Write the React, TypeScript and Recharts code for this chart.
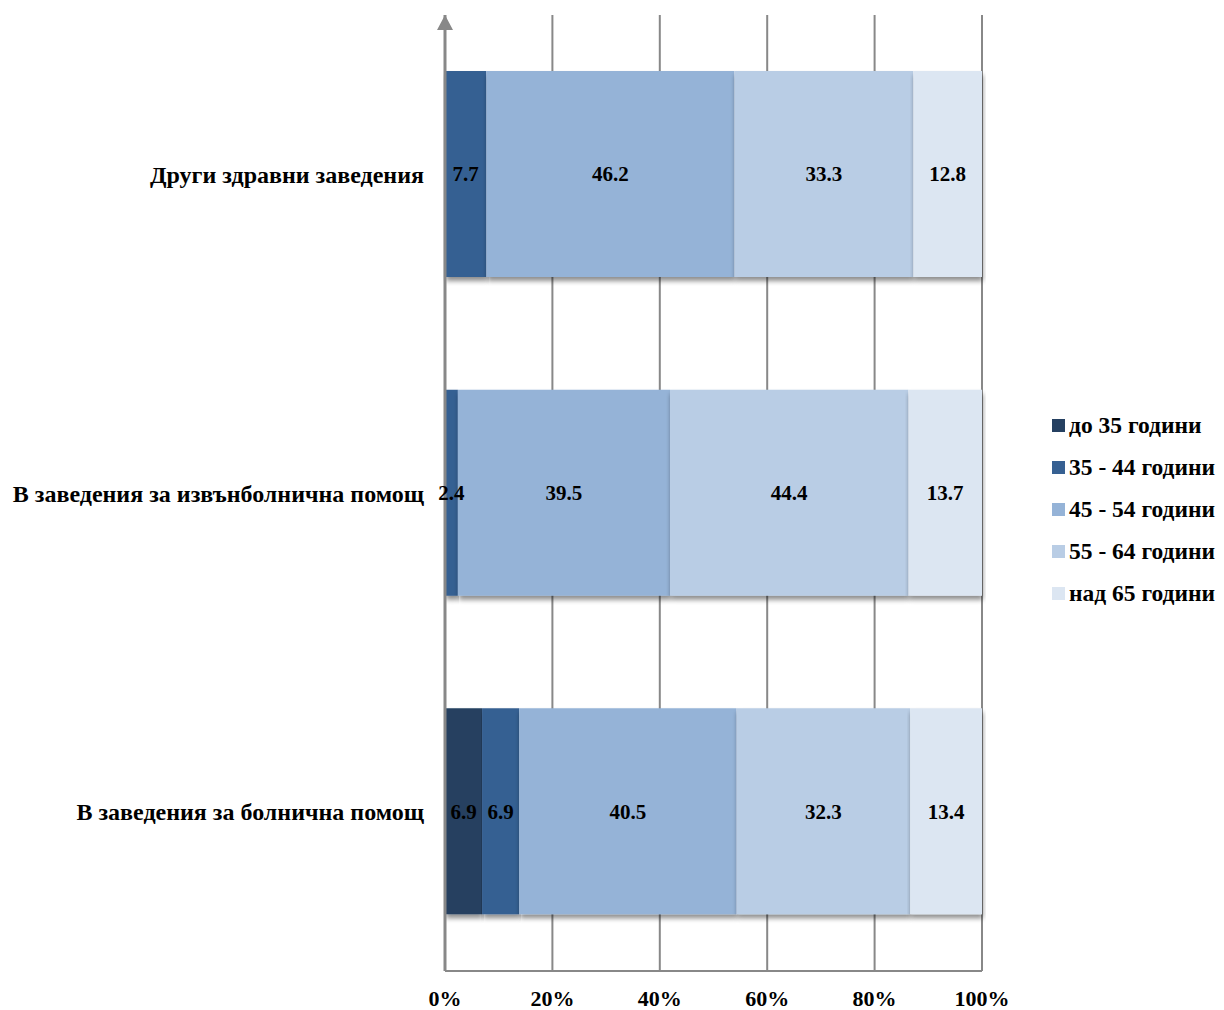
import React from 'react';
import * as R from 'recharts';
import { ComposedChart, Bar, XAxis, YAxis, CartesianGrid, LabelList } from 'recharts';

const categories = ['Други здравни заведения', 'В заведения за извънболнична помощ', 'В заведения за болнична помощ'];
const seriesNames = ['до 35 години', '35 - 44 години', '45 - 54 години', '55 - 64 години', 'над 65 години'];
const under35 = [0, 0, 6.9];
const from35to44 = [7.7, 2.4, 6.9];
const from45to54 = [46.2, 39.5, 40.5];
const from55to64 = [33.3, 44.4, 32.3];
const over65 = [12.8, 13.7, 13.4];
const xTicks = [0, 20, 40, 60, 80, 100];

const colors = ['#254061', '#366092', '#95B3D7', '#B9CDE5', '#DCE6F2'];
const keys = ['s0', 's1', 's2', 's3', 's4'];
const seriesValues = [under35, from35to44, from45to54, from55to64, over65];

const data = categories.map((c, i) => {
  const row: any = { name: c };
  keys.forEach((k, j) => { row[k] = seriesValues[j][i]; });
  return row;
});

const FONT = '"Liberation Serif", "Times New Roman", serif';

const Arrow = () => {
  const useOff = (R as any).useOffset;
  const off = useOff ? useOff() : null;
  if (!off) return null;
  const x = off.left;
  const y = off.top;
  return (
    <g>
      <polygon points={`${x},${y} ${x - 8},${y + 15} ${x + 8},${y + 15}`} fill="#888888" />
    </g>
  );
};

const LegendBox = () => (
  <div
    style={{
      position: 'absolute',
      left: 1052,
      top: 404,
      fontFamily: FONT,
      fontWeight: 'bold',
      fontSize: 23.5,
      color: '#000',
      whiteSpace: 'nowrap',
    }}
  >
    {seriesNames.map((n, i) => (
      <div key={n} style={{ display: 'flex', alignItems: 'center', height: 42 }}>
        <span style={{ display: 'inline-block', width: 13, height: 13, background: colors[i], marginRight: 4 }} />
        <span>{n}</span>
      </div>
    ))}
  </div>
);

const fmt = (v: any) => (v ? Number(v).toFixed(1) : '');

export default function App() {
  return (
    <div style={{ position: 'absolute', left: 0, top: 0, width: 1224, height: 1010 }}>
      <ComposedChart
        width={1224}
        height={1010}
        data={data}
        layout="vertical"
        margin={{ top: 15, right: 242, bottom: 0, left: 0 }}
      >
        <defs>
          <filter id="barShadow" x="-5%" y="-5%" width="110%" height="120%">
            <feGaussianBlur in="SourceAlpha" stdDeviation="2.5" />
            <feOffset dx="1" dy="4" result="off" />
            <feComponentTransfer>
              <feFuncA type="linear" slope="0.45" />
            </feComponentTransfer>
            <feMerge>
              <feMergeNode />
              <feMergeNode in="SourceGraphic" />
            </feMerge>
          </filter>
        </defs>
        <CartesianGrid horizontal={false} stroke="#888888" strokeWidth={2} />
        <XAxis
          type="number"
          domain={[0, 100]}
          ticks={xTicks}
          tickFormatter={(v) => `${v}%`}
          height={39}
          tickLine={false}
          tickSize={0}
          tickMargin={19}
          axisLine={{ stroke: '#888888', strokeWidth: 2 }}
          tick={{ fontFamily: FONT, fontWeight: 'bold', fontSize: 22, fill: '#000' }}
          interval={0}
        />
        <YAxis
          type="category"
          dataKey="name"
          width={445}
          tickLine={false}
          tickSize={0}
          tickMargin={21}
          axisLine={{ stroke: '#888888', strokeWidth: 3 }}
          tick={{ fontFamily: FONT, fontWeight: 'bold', fontSize: 24, fill: '#000' }}
        />
        {keys.map((k, i) => (
          <Bar
            key={k}
            dataKey={k}
            name={seriesNames[i]}
            stackId="a"
            fill={colors[i]}
            barSize={206}
            isAnimationActive={false}
            filter="url(#barShadow)"
          >
            <LabelList
              dataKey={k}
              position="center"
              formatter={fmt}
              style={{ fontFamily: FONT, fontWeight: 'bold', fontSize: 21, fill: '#000' }}
            />
          </Bar>
        ))}
        <Arrow />
      </ComposedChart>
      <LegendBox />
    </div>
  );
}
